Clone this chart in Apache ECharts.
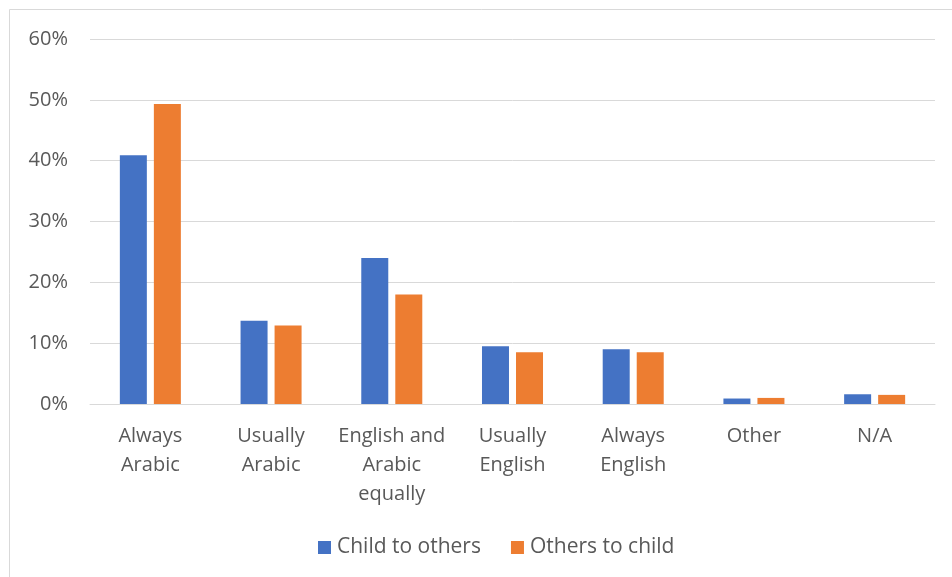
<!DOCTYPE html>
<html>
<head>
<meta charset="utf-8">
<script src="https://cdn.jsdelivr.net/npm/echarts@6/dist/echarts.min.js"></script>
<style>
  html, body { margin: 0; padding: 0; background: #fff; }
  #chart { width: 952px; height: 577px; }
</style>
</head>
<body>
<div id="chart"></div>
<script>
// Language used between the child and others, share of responses
const categories = ['Always\nArabic', 'Usually\nArabic', 'English and\nArabic\nequally', 'Usually\nEnglish', 'Always\nEnglish', 'Other', 'N/A'];
const childToOthers = [40.9, 13.7, 24.0, 9.5, 9.0, 0.9, 1.6];
const othersToChild = [49.3, 12.9, 18.0, 8.5, 8.5, 1.0, 1.5];
const seriesNames = ['Child to others', 'Others to child'];

const FONT = '"Open Sans", Lato, sans-serif';
const TEXT = '#595959';

const chart = echarts.init(document.getElementById('chart'));
chart.setOption({
  backgroundColor: '#fff',
  animation: false,
  textStyle: { fontFamily: FONT },
  graphic: [{
    type: 'rect',
    shape: { x: 9.5, y: 9.5, width: 960, height: 600 },
    style: { fill: 'none', stroke: '#d9d9d9', lineWidth: 1 },
    silent: true
  }],
  grid: { left: 90, right: 17, top: 39, bottom: 173, containLabel: false },
  legend: {
    bottom: 14,
    left: 313,
    itemWidth: 13,
    itemHeight: 13,
    itemGap: 30,
    icon: 'rect',
    textStyle: { fontSize: 21, color: TEXT, fontFamily: FONT, padding: [0, 0, 0, 1] },
    data: seriesNames
  },
  xAxis: {
    type: 'category',
    data: categories,
    axisLine: { lineStyle: { color: '#d9d9d9' } },
    axisTick: { show: false },
    axisLabel: { fontSize: 20, color: TEXT, lineHeight: 29, margin: 18, interval: 0, fontFamily: FONT }
  },
  yAxis: {
    type: 'value',
    min: 0,
    max: 60,
    interval: 10,
    axisLine: { show: false },
    axisTick: { show: false },
    splitLine: { lineStyle: { color: '#d9d9d9' } },
    axisLabel: { fontSize: 20, color: TEXT, margin: 22, formatter: '{value}%', fontFamily: FONT }
  },
  series: [
    {
      name: seriesNames[0],
      type: 'bar',
      data: childToOthers,
      barWidth: 27,
      barGap: '26%',
      itemStyle: { color: '#4472c4' }
    },
    {
      name: seriesNames[1],
      type: 'bar',
      data: othersToChild,
      barWidth: 27,
      itemStyle: { color: '#ed7d31' }
    }
  ]
});
</script>
</body>
</html>
